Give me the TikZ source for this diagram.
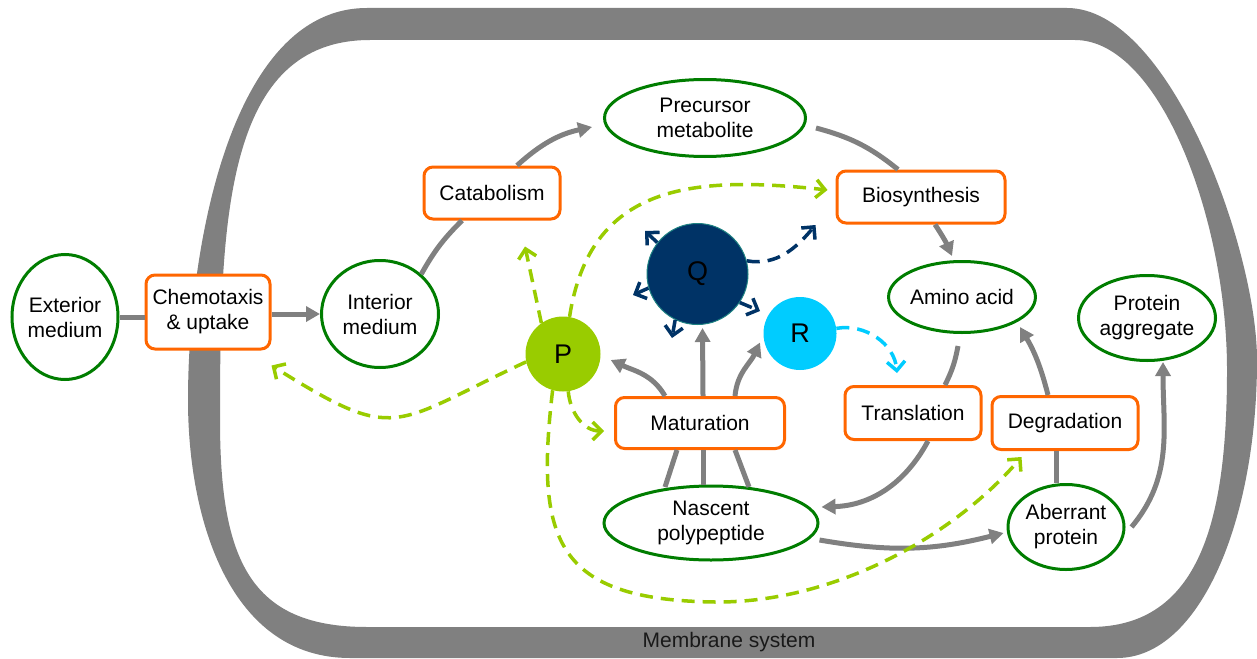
\documentclass[tikz,border=0pt]{standalone}
\usepackage{fontspec}
\setmainfont{Liberation Sans}
\usetikzlibrary{shapes.geometric,arrows.meta}
\definecolor{cgreen}{RGB}{0,125,0}
\definecolor{corange}{RGB}{255,102,0}
\definecolor{cgray}{RGB}{128,128,128}
\definecolor{clime}{RGB}{153,204,0}
\definecolor{cnavy}{RGB}{0,51,102}
\definecolor{cteal}{RGB}{30,130,130}
\definecolor{ccyan}{RGB}{0,204,255}
\begin{document}
\begin{tikzpicture}[x=1pt,y=-1pt,
  every node/.style={font=\fontsize{21}{25}\selectfont, align=center, inner sep=0pt},
  state/.style={ellipse, draw=cgreen, line width=3pt, fill=white},
  proc/.style={rectangle, rounded corners=9pt, draw=corange, line width=3pt, fill=white},
  ctl/.style={circle, font=\fontsize{27}{30}\selectfont},
  gline/.style={draw=cgray, line width=5pt},
  garrow/.style={gline, -{Triangle[length=14pt,width=15pt]}},
  dbase/.style={line width=3.5pt, dash pattern=on 13pt off 8pt, -{Straight Barb[length=9pt,width=18pt]}},
  dlime/.style={dbase, draw=clime},
  dnavy/.style={dbase, draw=cnavy},
  dcyan/.style={dbase, draw=ccyan}]
\useasboundingbox (0,0) rectangle (1257,658);
% membrane
\fill[cgray, even odd rule]
  (367,8) -- (1067,8) .. controls (1170,8) and (1257,250) .. (1257,360)
  .. controls (1257,520) and (1200,658) .. (1117,658) -- (350,658)
  .. controls (230,658) and (188,520) .. (188,400)
  .. controls (188,250) and (230,8) .. (367,8) -- cycle
  (370,40) -- (1075,40) .. controls (1160,40) and (1227,220) .. (1227,370)
  .. controls (1227,520) and (1200,627) .. (1090,627) -- (367,627)
  .. controls (250,627) and (220,560) .. (220,420)
  .. controls (220,220) and (225,40) .. (370,40) -- cycle;
\node[text=black!90] (mem) at (729,642) {Membrane system};
% nodes
\node[state, minimum width=106pt, minimum height=125pt] (ext) at (65,317) {Exterior\\medium};
\node[proc, minimum width=124pt, minimum height=74pt] (chem) at (208,312) {Chemotaxis\\\& uptake};
\node[state, minimum width=117pt, minimum height=107pt] (int) at (380,314) {Interior\\medium};
\node[proc, minimum width=136pt, minimum height=52pt] (cat) at (492,193) {Catabolism};
\node[state, minimum width=201pt, minimum height=77pt] (pre) at (705,118) {\rule{0pt}{4pt}Precursor\\metabolite};
\node[proc, minimum width=168pt, minimum height=52pt] (bio) at (921,197) {Biosynthesis};
\node[state, minimum width=129pt, minimum height=71pt] (ami) at (962,297) {Amino acid};
\node[state, minimum width=137pt, minimum height=85pt] (agg) at (1147,318) {Protein\\aggregate};
\node[proc, minimum width=136pt, minimum height=53pt] (tra) at (913,413) {Translation};
\node[proc, minimum width=146pt, minimum height=53pt] (deg) at (1065,423) {Degradation};
\node[state, minimum width=116pt, minimum height=85pt] (abe) at (1066,527) {Aberrant\\protein};
\node[state, minimum width=214pt, minimum height=74pt] (nas) at (711,523) {Nascent\\polypeptide};
\node[proc, minimum width=169pt, minimum height=51pt] (mat) at (700,423) {Maturation};
\node[ctl, fill=clime, minimum size=75pt] (P) at (563,354) {P};
\node[ctl, fill=cnavy, draw=cteal, line width=1pt, minimum size=101pt] (Q) at (697.5,274) {Q};
\node[ctl, fill=ccyan, minimum size=73pt] (R) at (800,333.5) {R};
% gray connectors
\draw[gline] (ext.east) -- (ext.east -| chem.west);
\draw[garrow] (chem.east |- int.west) -- (int.west);
\draw[gline] (int.44) to[bend left=8] ([xshift=-30pt]cat.south);
\draw[garrow] ([xshift=25pt]cat.north) to[bend left=15] ([xshift=-11pt,yshift=-9pt]pre.west);
\draw[gline] ([xshift=9pt,yshift=-10pt]pre.east) to[bend left=12] ([xshift=-23pt]bio.north);
\draw[garrow] ([xshift=14pt]bio.south) to[bend left=5] ([xshift=-10pt,yshift=4pt]ami.north);
\draw[gline] ([xshift=-4pt,yshift=-12pt]ami.south) to[bend left=8] ([xshift=32pt]tra.north);
\draw[garrow] ([xshift=15pt]tra.south) to[bend left=30] ([xshift=2pt,yshift=16pt]nas.east);
\draw[garrow] ([yshift=-17pt]nas.east) to[bend right=12] ([xshift=-3pt,yshift=-6pt]abe.west);
\draw[gline] ([xshift=-10pt]abe.north) -- ([xshift=-9pt]deg.south);
\draw[garrow] ([xshift=-17pt]deg.north) to[bend right=8] ([xshift=58pt,yshift=-30pt]ami.center);
\draw[garrow] ([xshift=6pt]abe.east) to[out=50,in=-90] ([xshift=16pt]agg.south);
\draw[gline] ([xshift=-46pt,yshift=36pt]nas.center) -- ([xshift=-23pt]mat.south);
\draw[gline] ([xshift=-8pt]nas.north) -- ([xshift=3pt]mat.south);
\draw[gline] ([xshift=38pt,yshift=36pt]nas.center) -- ([xshift=35pt]mat.south);
\draw[garrow] ([xshift=-35pt]mat.north) to[out=120,in=-25] ([xshift=10pt,yshift=-6pt]P.east);
\draw[garrow] ([xshift=3pt]mat.north) -- ([xshift=5pt,yshift=-3pt]Q.south);
\draw[garrow] ([xshift=35pt]mat.north) to[out=85,in=-115] ([xshift=-40pt,yshift=-9pt]R.center);
% lime dashed
\coordinate (pd) at (715,602);
\draw[dlime] (P.192) to[out=205,in=-32,looseness=1.5] ([yshift=-15pt]chem.south east);
\draw[dlime] (P.125) -- ([xshift=33pt,yshift=-26pt]cat.south);
\draw[dlime] (P.80) .. controls (590,185) and (690,175) .. ([xshift=-8pt,yshift=7pt]bio.west);
\draw[dlime] (P.-82) to[out=-85,in=180] ([xshift=-10pt,yshift=-8pt]mat.west);
\draw[dlime] (P.-106) .. controls (535,540) and (555,600) .. (pd)
  .. controls (830,603) and (950,540) .. ([xshift=31pt,yshift=-6pt]deg.south west);
% navy dashed
\coordinate (q1) at (645,231);
\coordinate (q2) at (633,295);
\coordinate (q3) at (672,338);
\coordinate (q4) at (760,311);
\draw[dnavy] (Q.142) -- (q1);
\draw[dnavy] (Q.196) -- (q2);
\draw[dnavy] (Q.244) -- (q3);
\draw[dnavy] (Q.-34) -- (q4);
\draw[dnavy] (Q.15) to[out=-10,in=230] ([xshift=-20pt,yshift=-28pt]bio.west);
% cyan dashed
\draw[dcyan] (R.8) to[out=10,in=95] ([xshift=-16pt,yshift=12pt]tra.north);
\end{tikzpicture}
\end{document}
